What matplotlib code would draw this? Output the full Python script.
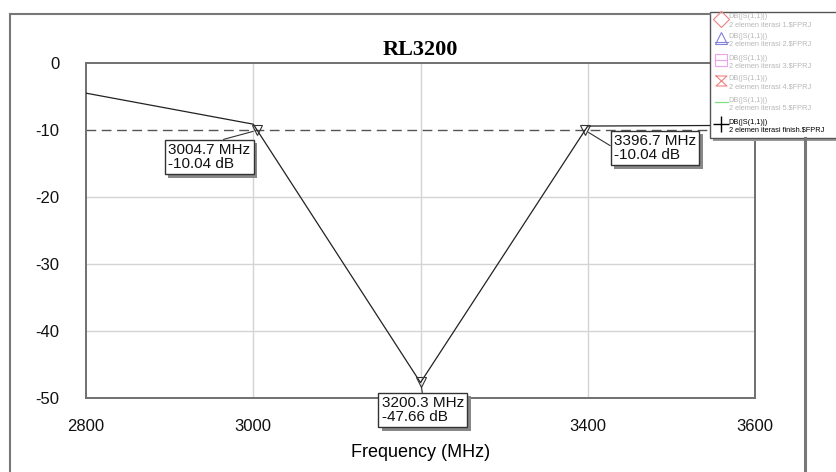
import matplotlib.pyplot as plt
import matplotlib.patheffects as pe
from matplotlib.lines import Line2D
from matplotlib.patches import Rectangle

# sweep points of the simulated return loss
freq = [2800, 3000, 3200, 3400, 3600]
rl_db = [-4.5, -9.13, -47.7, -9.41, -9.3]

# marker readouts
mark_freq = [3004.7, 3200.3, 3396.7]
mark_db = [-10.04, -47.66, -10.04]

x_ticks = [2800, 3000, 3200, 3400, 3600]
# the 3200 label sits under the marker box in the original
x_labels = ["2800", "3000", "", "3400", "3600"]
y_ticks = [0, -10, -20, -30, -40, -50]

legend_top = ["DB(|S(1,1)|)"] * 6
legend_sub = ["2 elemen iterasi 1.\\$FPRJ", "2 elemen iterasi 2.\\$FPRJ",
              "2 elemen iterasi 3.\\$FPRJ", "2 elemen iterasi 4.\\$FPRJ",
              "2 elemen iterasi 5.\\$FPRJ", "2 elemen iterasi finish.\\$FPRJ"]

plt.rcParams['font.family'] = ['Liberation Sans', 'DejaVu Sans']
plt.rcParams['axes.unicode_minus'] = False

W, H = 836, 472
fig = plt.figure(figsize=(W / 100, H / 100), dpi=100)

# plot area
ax = fig.add_axes([86 / W, 1 - 398 / H, (755 - 86) / W, (398 - 63) / H])
ax.set_xlim(2800, 3600)
ax.set_ylim(-50, 0)
ax.set_xticks(x_ticks, x_labels)
ax.set_yticks(y_ticks)
ax.tick_params(length=0, labelsize=12, colors='#111111')
ax.tick_params(axis='x', pad=15)
ax.tick_params(axis='y', pad=19)
for s in ax.spines.values():
    s.set_color('#707070')
    s.set_linewidth(1.4)

# grid lines
for xv in x_ticks[1:-1]:
    ax.axvline(xv, color='#d4d4d4', lw=1, zorder=0)
for yv in y_ticks[2:-1]:
    ax.axhline(yv, color='#d4d4d4', lw=1, zorder=0)
ax.axhline(-10, color='#555555', lw=1, dashes=(7, 4), zorder=1)

ax.plot(freq, rl_db, color='#222222', lw=0.9, zorder=3)
ax.plot(mark_freq, mark_db, linestyle='none', marker='v', markersize=7,
        markerfacecolor='none', markeredgecolor='#333333', markeredgewidth=0.8, zorder=4)

# marker label boxes (offset in pixels from the marker)
offsets = [(-89, -13), (-39, -14), (29, -4)]
relpos = [(0.5, 1), (0.5, 1), (0, 0.5)]
shadow = [pe.withSimplePatchShadow(offset=(2.5, -2.5), shadow_rgbFace='#888888', alpha=1)]
for f, d, off, rp in zip(mark_freq, mark_db, offsets, relpos):
    label = f"{f:.1f} MHz\n{d:.2f} dB"
    ann = ax.annotate(label, (f, d), xytext=off, textcoords='offset pixels',
                      ha='left', va='top', fontsize=11, color='#111111', linespacing=0.95,
                      bbox=dict(boxstyle='square,pad=0.22', fc='white', ec='#333333', lw=1),
                      arrowprops=dict(arrowstyle='-', color='#333333', lw=0.8, relpos=rp,
                                      shrinkA=0, shrinkB=3),
                      zorder=6, annotation_clip=False)
    ann.get_bbox_patch().set_path_effects(shadow)

ax.set_title("RL3200", fontfamily='Liberation Serif', fontweight='bold', fontsize=16, pad=6)
ax.set_xlabel("Frequency (MHz)", fontsize=13, labelpad=7)

# outer frame
fig.add_artist(Line2D([10 / W, 710 / W], [1 - 14 / H, 1 - 14 / H], color='#777777', lw=1.5))
fig.add_artist(Line2D([10 / W, 10 / W], [0, 1 - 14 / H], color='#777777', lw=1.5))
fig.add_artist(Line2D([805 / W, 805 / W], [0, 1 - 138 / H], color='#777777', lw=2.2))

# legend panel drawn in pixel units
lg = fig.add_axes([0, 0, 1, 1], facecolor='none')
lg.set_xlim(0, W)
lg.set_ylim(H, 0)
lg.axis('off')
lg.add_patch(Rectangle((713, 15), 130, 126, fc='#999999', ec='none', zorder=1))
lg.add_patch(Rectangle((710, 12), 130, 126, fc='white', ec='#555555', lw=1, zorder=2))

sym_style = [('D', '#f08080'), ('^', '#8080e0'), ('s', '#f0a0f0'),
             ('hg', '#f08080'), ('line', '#80e080'), ('+', '#000000')]
row_y = [19, 38, 60, 81, 102, 124]
for (sym, col), yy, t1, t2 in zip(sym_style, row_y, legend_top, legend_sub):
    if sym == 'line':
        lg.plot([715, 728], [yy, yy], color=col, lw=0.9, zorder=3)
    elif sym == 'hg':
        lg.plot([716, 727, 716, 727, 716], [yy - 5, yy - 5, yy + 5, yy + 5, yy - 5],
                color=col, lw=0.8, zorder=3)
    elif sym == '+':
        lg.plot([721], [yy], marker='+', markersize=11, color=col, mew=1, zorder=3)
    else:
        lg.plot([721], [yy], marker=sym, markersize=8, mfc='none', mec=col, mew=0.8, zorder=3)
        if sym == '^':
            lg.plot([715, 728], [yy + 4, yy + 4], color=col, lw=0.8, zorder=3)
        if sym == 's':
            lg.plot([716, 726], [yy, yy], color=col, lw=0.8, zorder=3)
    tc = '#000000' if sym == '+' else '#b8b8b8'
    lg.text(728, yy - 2, t1, fontsize=5.3, color=tc, va='center', zorder=3)
    lg.text(729, yy + 6, t2, fontsize=5.3, color=tc, va='center', zorder=3)

fig.savefig('out.png', dpi=100)
